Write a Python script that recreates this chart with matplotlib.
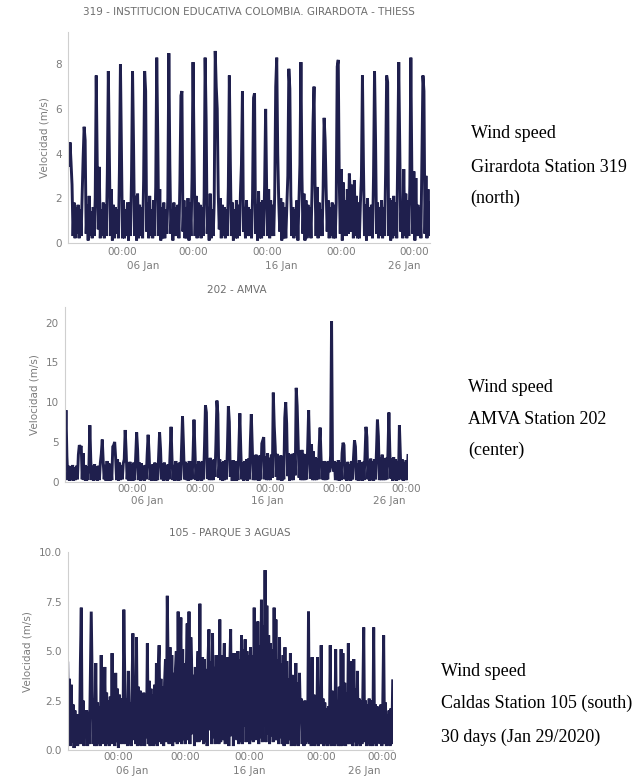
import numpy as np
import matplotlib
matplotlib.use("Agg")
import matplotlib.pyplot as plt

# ______________________________________________________DATA__________________________________________________________ #
# wind speed (m/s), one row per day, 12 readings per day (every 2 h)
girardota_319 = [
    [3.9, 3.4, 4.5, 3.6, 2.6, 0.3, 1.8, 0.2, 1.6, 0.4, 1.7, 0.2],
    [1.5, 0.3, 2.1, 3.8, 5.2, 4.6, 0.4, 1.7, 0.1, 2.1, 0.3, 1.4],
    [0.2, 1.6, 0.3, 2.0, 7.5, 3.5, 0.6, 3.4, 0.2, 1.5, 0.3, 1.8],
    [0.2, 1.7, 0.3, 3.1, 7.7, 3.9, 0.3, 2.4, 0.1, 1.7, 0.2, 1.6],
    [0.4, 1.5, 0.2, 3.3, 8.0, 4.2, 0.2, 1.9, 0.2, 1.5, 0.3, 1.8],
    [0.1, 1.8, 0.3, 3.0, 7.7, 4.4, 0.3, 2.1, 0.1, 2.2, 0.2, 1.7],
    [0.3, 1.6, 0.2, 2.8, 7.7, 6.8, 0.5, 1.8, 0.2, 2.1, 0.3, 1.5],
    [0.2, 1.9, 0.3, 2.5, 8.3, 4.8, 0.3, 2.4, 0.1, 1.6, 0.2, 1.8],
    [0.2, 1.5, 0.4, 2.0, 8.5, 3.5, 0.4, 1.5, 0.1, 1.8, 0.3, 1.6],
    [0.3, 1.7, 0.2, 2.8, 6.6, 6.8, 0.5, 1.9, 0.2, 1.6, 0.2, 2.0],
    [0.1, 1.8, 0.3, 2.9, 8.1, 4.0, 0.3, 2.1, 0.2, 1.8, 0.3, 1.7],
    [0.2, 1.6, 0.3, 2.0, 8.3, 5.5, 0.4, 1.6, 0.1, 2.2, 0.2, 1.5],
    [0.3, 1.8, 8.6, 7.0, 6.0, 2.2, 0.6, 2.0, 0.2, 1.7, 0.3, 1.6],
    [0.2, 1.5, 0.3, 2.5, 7.5, 3.6, 0.3, 1.8, 0.1, 1.5, 0.2, 1.9],
    [0.2, 1.7, 0.3, 2.2, 3.5, 6.8, 0.5, 1.6, 0.2, 1.9, 0.3, 1.6],
    [0.3, 1.5, 0.2, 2.0, 6.5, 6.7, 0.4, 1.7, 0.1, 2.3, 0.2, 1.8],
    [0.2, 1.9, 0.3, 2.6, 6.0, 2.4, 0.3, 2.4, 0.2, 1.9, 0.3, 1.7],
    [0.3, 2.2, 7.0, 8.3, 4.0, 1.8, 0.5, 2.0, 0.1, 1.8, 0.2, 1.6],
    [0.2, 1.6, 3.0, 7.8, 6.9, 2.1, 0.3, 1.6, 0.2, 1.5, 0.3, 1.9],
    [0.1, 1.8, 3.5, 8.1, 3.0, 0.4, 2.2, 0.1, 1.9, 0.2, 1.7, 0.3],
    [1.6, 0.2, 2.4, 5.4, 7.0, 2.6, 0.3, 2.5, 0.2, 1.8, 0.3, 1.5],
    [0.3, 2.4, 5.6, 4.6, 2.4, 0.5, 1.9, 0.2, 1.6, 0.3, 1.8, 0.2],
    [1.7, 0.2, 1.8, 7.9, 8.2, 2.8, 0.4, 3.3, 0.1, 2.7, 0.3, 1.9],
    [0.3, 2.4, 0.4, 3.1, 2.2, 0.5, 2.6, 0.2, 2.8, 0.3, 2.1, 0.2],
    [1.8, 0.2, 1.8, 3.0, 7.5, 3.5, 0.3, 1.7, 0.1, 2.0, 0.3, 1.6],
    [0.3, 1.7, 0.2, 3.0, 7.7, 4.6, 0.4, 1.8, 0.2, 1.6, 0.3, 1.9],
    [0.2, 1.6, 0.3, 3.2, 7.5, 7.2, 0.3, 2.0, 0.1, 1.9, 0.2, 2.1],
    [0.3, 1.8, 0.2, 3.9, 8.1, 4.3, 0.5, 1.8, 0.2, 3.3, 0.3, 2.2],
    [0.2, 1.9, 0.3, 2.6, 8.3, 3.1, 0.4, 3.2, 0.1, 2.9, 0.3, 1.7],
    [0.3, 1.6, 0.2, 3.7, 7.5, 6.8, 0.4, 3.0, 0.2, 2.4, 0.3, 1.8],
]

amva_202 = [
    [3.5, 9.0, 3.2, 0.2, 2.0, 0.1, 1.9, 0.2, 2.1, 0.1, 1.8, 0.2],
    [2.0, 0.3, 3.4, 4.6, 4.3, 4.5, 0.3, 3.6, 0.2, 2.1, 0.1, 1.9],
    [0.2, 1.8, 7.1, 2.6, 0.2, 2.0, 0.1, 2.2, 0.2, 1.9, 0.1, 2.0],
    [0.2, 2.4, 3.5, 5.3, 2.5, 0.3, 2.1, 0.1, 2.6, 0.2, 2.3, 0.1],
    [2.2, 0.2, 4.4, 4.6, 5.0, 3.0, 0.2, 2.8, 0.1, 2.4, 0.2, 2.1],
    [0.3, 2.3, 2.8, 6.5, 3.8, 0.3, 2.2, 0.1, 2.5, 0.2, 2.2, 0.1],
    [2.4, 0.2, 3.1, 6.2, 4.0, 0.2, 2.4, 0.1, 2.3, 0.2, 2.0, 0.1],
    [2.1, 0.3, 3.4, 5.9, 3.6, 0.2, 2.0, 0.1, 2.2, 0.2, 2.4, 0.1],
    [2.3, 0.2, 3.2, 6.2, 4.1, 0.3, 2.3, 0.1, 2.4, 0.2, 2.1, 0.1],
    [2.2, 0.3, 3.6, 6.9, 2.9, 0.2, 2.1, 0.1, 2.6, 0.2, 2.3, 0.1],
    [2.4, 0.2, 4.0, 8.2, 4.6, 0.3, 2.5, 0.2, 2.3, 0.1, 2.6, 0.2],
    [2.5, 0.3, 3.3, 7.8, 3.8, 0.2, 2.2, 0.1, 2.6, 0.2, 2.4, 0.1],
    [2.6, 0.3, 4.4, 9.6, 8.7, 0.4, 2.6, 0.2, 3.0, 0.2, 2.7, 0.2],
    [2.8, 0.6, 5.0, 10.2, 8.5, 0.5, 2.8, 0.2, 2.4, 0.1, 2.6, 0.2],
    [2.7, 0.3, 4.2, 9.5, 7.5, 0.6, 2.5, 0.1, 2.7, 0.2, 2.5, 0.1],
    [2.6, 0.2, 4.6, 8.6, 3.9, 0.3, 2.4, 0.1, 2.6, 0.2, 2.8, 0.1],
    [2.9, 0.3, 5.0, 8.5, 4.1, 0.2, 3.3, 0.2, 3.4, 0.2, 3.1, 0.1],
    [3.3, 0.3, 4.8, 5.2, 5.6, 0.3, 3.2, 0.2, 3.6, 0.2, 3.0, 0.2],
    [3.4, 0.5, 11.2, 7.0, 4.4, 0.6, 3.5, 0.2, 3.2, 0.2, 3.3, 0.1],
    [3.1, 0.3, 8.0, 10.0, 7.3, 0.7, 3.6, 0.1, 3.4, 0.2, 3.5, 0.2],
    [3.6, 0.8, 11.8, 9.5, 4.8, 0.5, 3.9, 0.2, 4.0, 0.2, 3.5, 0.2],
    [3.4, 0.3, 4.4, 9.0, 4.2, 0.4, 4.7, 0.2, 3.8, 0.2, 3.1, 0.2],
    [2.9, 0.3, 4.4, 6.8, 3.0, 0.3, 2.5, 0.2, 2.6, 0.2, 2.4, 0.3],
    [2.6, 1.2, 3.3, 20.2, 2.0, 1.3, 2.6, 0.2, 2.4, 0.2, 2.7, 0.1],
    [2.4, 0.2, 3.6, 4.9, 4.6, 0.3, 2.1, 0.1, 2.5, 0.2, 2.2, 0.1],
    [2.6, 0.3, 3.1, 5.2, 4.4, 0.2, 2.3, 0.1, 2.7, 0.2, 2.4, 0.1],
    [2.5, 0.2, 3.3, 6.9, 5.6, 0.3, 2.6, 0.1, 2.9, 0.2, 2.6, 0.1],
    [2.8, 0.3, 3.8, 7.8, 5.7, 0.2, 3.0, 0.2, 3.4, 0.2, 2.9, 0.2],
    [3.0, 0.3, 3.6, 8.7, 3.7, 0.4, 2.9, 0.1, 3.1, 0.2, 2.8, 0.1],
    [2.6, 0.2, 7.1, 3.4, 0.3, 2.8, 0.1, 2.4, 0.2, 2.7, 0.2, 3.3],
]

caldas_105 = [
    [4.4, 0.8, 3.6, 0.2, 3.3, 0.4, 2.3, 0.1, 2.0, 0.3, 1.8, 0.2],
    [1.8, 0.3, 4.4, 7.2, 0.3, 2.5, 0.2, 2.0, 1.0, 2.0, 0.2, 1.9],
    [0.3, 3.7, 7.0, 3.6, 0.3, 2.6, 0.2, 4.4, 0.2, 2.4, 0.3, 2.2],
    [0.2, 4.8, 0.3, 3.9, 1.4, 4.2, 0.2, 2.9, 0.3, 2.5, 0.2, 2.7],
    [0.3, 4.9, 0.4, 3.2, 0.2, 3.9, 0.4, 3.1, 0.1, 2.8, 0.3, 2.6],
    [2.5, 0.3, 7.1, 3.8, 0.3, 2.6, 0.2, 4.0, 0.3, 2.4, 0.2, 2.9],
    [5.9, 0.5, 3.4, 0.3, 5.7, 0.2, 3.2, 0.3, 3.0, 0.2, 2.7, 0.4],
    [2.9, 0.2, 2.4, 0.6, 5.4, 0.3, 3.5, 0.2, 3.1, 0.3, 2.8, 0.2],
    [3.3, 0.3, 4.4, 0.2, 3.9, 5.3, 0.4, 3.6, 0.3, 3.2, 0.2, 3.4],
    [4.6, 0.4, 7.8, 4.2, 0.3, 5.2, 0.6, 4.8, 0.2, 3.9, 0.4, 4.1],
    [5.0, 0.3, 7.0, 0.4, 3.9, 6.7, 0.3, 5.1, 0.5, 4.4, 0.3, 4.0],
    [6.4, 0.5, 7.0, 0.3, 5.7, 4.1, 0.8, 3.8, 0.2, 4.2, 0.4, 3.7],
    [5.0, 0.4, 7.4, 0.5, 3.6, 4.7, 0.3, 4.6, 0.4, 4.1, 0.2, 4.5],
    [6.1, 1.0, 4.5, 0.3, 5.9, 0.6, 4.2, 0.3, 4.8, 0.5, 4.3, 0.3],
    [6.6, 0.4, 4.8, 0.5, 3.6, 5.4, 0.3, 4.5, 0.6, 4.7, 0.2, 4.2],
    [6.1, 0.7, 4.9, 0.2, 4.9, 0.6, 4.4, 0.5, 5.0, 0.3, 4.6, 0.4],
    [5.8, 0.3, 5.1, 1.2, 5.6, 0.4, 5.0, 0.6, 4.8, 0.3, 5.2, 0.5],
    [4.8, 0.4, 7.2, 0.5, 5.5, 0.9, 6.5, 0.3, 5.3, 0.6, 7.6, 0.4],
    [6.3, 1.2, 9.1, 0.4, 7.3, 0.8, 5.8, 0.3, 5.4, 0.7, 5.1, 0.4],
    [7.2, 0.5, 6.6, 0.5, 4.6, 0.3, 5.7, 0.6, 4.4, 0.3, 4.8, 0.2],
    [5.2, 0.4, 4.5, 0.3, 3.6, 0.5, 4.9, 0.2, 3.8, 0.3, 3.5, 0.2],
    [4.4, 0.3, 3.4, 0.2, 3.9, 1.8, 2.6, 0.3, 2.2, 0.2, 2.5, 0.3],
    [2.4, 0.4, 7.0, 0.3, 3.5, 0.2, 4.7, 0.4, 2.8, 0.2, 2.6, 0.3],
    [4.7, 0.2, 2.9, 0.3, 5.3, 0.3, 2.6, 0.2, 2.4, 0.3, 2.1, 0.2],
    [2.2, 0.3, 5.3, 0.2, 3.0, 0.4, 2.8, 0.2, 5.1, 0.3, 2.4, 0.2],
    [3.2, 0.2, 5.1, 0.2, 4.9, 0.3, 3.4, 0.2, 2.9, 0.3, 5.4, 0.3],
    [2.7, 0.3, 4.5, 0.2, 4.6, 0.4, 3.1, 0.2, 4.0, 0.3, 2.6, 0.2],
    [2.5, 0.3, 2.8, 6.2, 0.4, 2.5, 0.2, 2.3, 0.3, 2.6, 0.2, 2.4],
    [2.5, 0.2, 6.2, 0.3, 2.3, 0.2, 2.2, 0.4, 2.0, 0.3, 2.3, 0.2],
    [2.2, 5.8, 0.3, 2.4, 0.2, 1.8, 0.3, 2.0, 0.2, 2.1, 0.3, 3.5],
]

titles = ["319 - INSTITUCION EDUCATIVA COLOMBIA. GIRARDOTA - THIESS",
          "202 - AMVA",
          "105 - PARQUE 3 AGUAS"]
yticks = [[0, 2, 4, 6, 8], [0, 5, 10, 15, 20], [0.0, 2.5, 5.0, 7.5, 10.0]]
ytick_labels = [["0", "2", "4", "6", "8"], ["0", "5", "10", "15", "20"],
                ["0.0", "2.5", "5.0", "7.5", "10.0"]]
ytops = [9.45, 22.0, 10.0]
# tick positions (days since start) as they sit in the screenshot
hour_ticks = [[4.47, 10.36, 16.49, 22.54, 28.58],
              [5.83, 11.81, 17.93, 23.77, 29.74],
              [4.67, 10.83, 16.67, 23.29, 28.98]]
date_ticks = [[6.2, 17.6, 27.75], [7.15, 17.64, 28.28], [5.9, 16.67, 27.29]]
date_labels = ["06 Jan", "16 Jan", "26 Jan"]

captions = [["Wind speed", "Girardota Station 319", "(north)"],
            ["Wind speed", "AMVA Station 202", "(center)"],
            ["Wind speed", "Caldas Station 105 (south)", "30 days (Jan 29/2020)"]]

# ____________________________________________________LAYOUT__________________________________________________________ #
W, H = 640, 778
# axes boxes in pixels: left, right, top, bottom
boxes = [(68, 430, 32, 242.7), (65, 408, 306.7, 481.7), (67.7, 392.7, 552.3, 750)]
title_y = [12, 290, 533]
caption_xy = [(470.7, [134, 167, 198]), (468.3, [387, 419, 450]), (440.7, [671, 703, 737])]
major_pad = [3.0, 1.8, 1.6]
minor_pad = [13.2, 10.5, 11.8]

line_col = "#1f1f4d"
txt_col = "#7c7c7c"

fig = plt.figure(figsize=(W / 100, H / 100), dpi=100)

series = [girardota_319, amva_202, caldas_105]
for k in range(3):
    l, r, t, b = boxes[k]
    ax = fig.add_axes([l / W, 1 - b / H, (r - l) / W, (b - t) / H])
    v = np.array(series[k], dtype=float).ravel()
    x = np.arange(len(v)) / 12.0
    ax.plot(x, v, color=line_col, lw=2.1, solid_joinstyle="miter")
    ax.set_xlim(x[0], x[-1])
    ax.set_ylim(0, ytops[k])

    ax.xaxis.remove_overlapping_locs = False
    ax.set_yticks(yticks[k])
    ax.set_yticklabels(ytick_labels[k])
    ax.set_xticks(hour_ticks[k])
    ax.set_xticklabels(["00:00"] * len(hour_ticks[k]))
    ax.set_xticks(date_ticks[k], minor=True)
    ax.set_xticklabels(date_labels, minor=True)
    ax.tick_params(axis="both", which="both", length=0, labelsize=7.5, colors=txt_col)
    ax.tick_params(axis="y", pad=4.5)
    ax.tick_params(axis="x", which="major", pad=major_pad[k])
    ax.tick_params(axis="x", which="minor", pad=minor_pad[k])
    ax.set_ylabel("Velocidad (m/s)", fontsize=7.5, color=txt_col, labelpad=4)

    for s in ["top", "right"]:
        ax.spines[s].set_visible(False)
    for s in ["left", "bottom"]:
        ax.spines[s].set_color("#cfcfcf")
        ax.spines[s].set_linewidth(0.8)

    fig.text((l + r) / 2 / W, 1 - title_y[k] / H, titles[k], ha="center", va="center",
             fontsize=7.5, color="#6e6e6e")

    cx, cys = caption_xy[k]
    for line, cy in zip(captions[k], cys):
        fig.text(cx / W, 1 - cy / H, line, ha="left", va="center", fontsize=13,
                 family="Liberation Serif", color="black")

fig.savefig("out.png", dpi=100)
